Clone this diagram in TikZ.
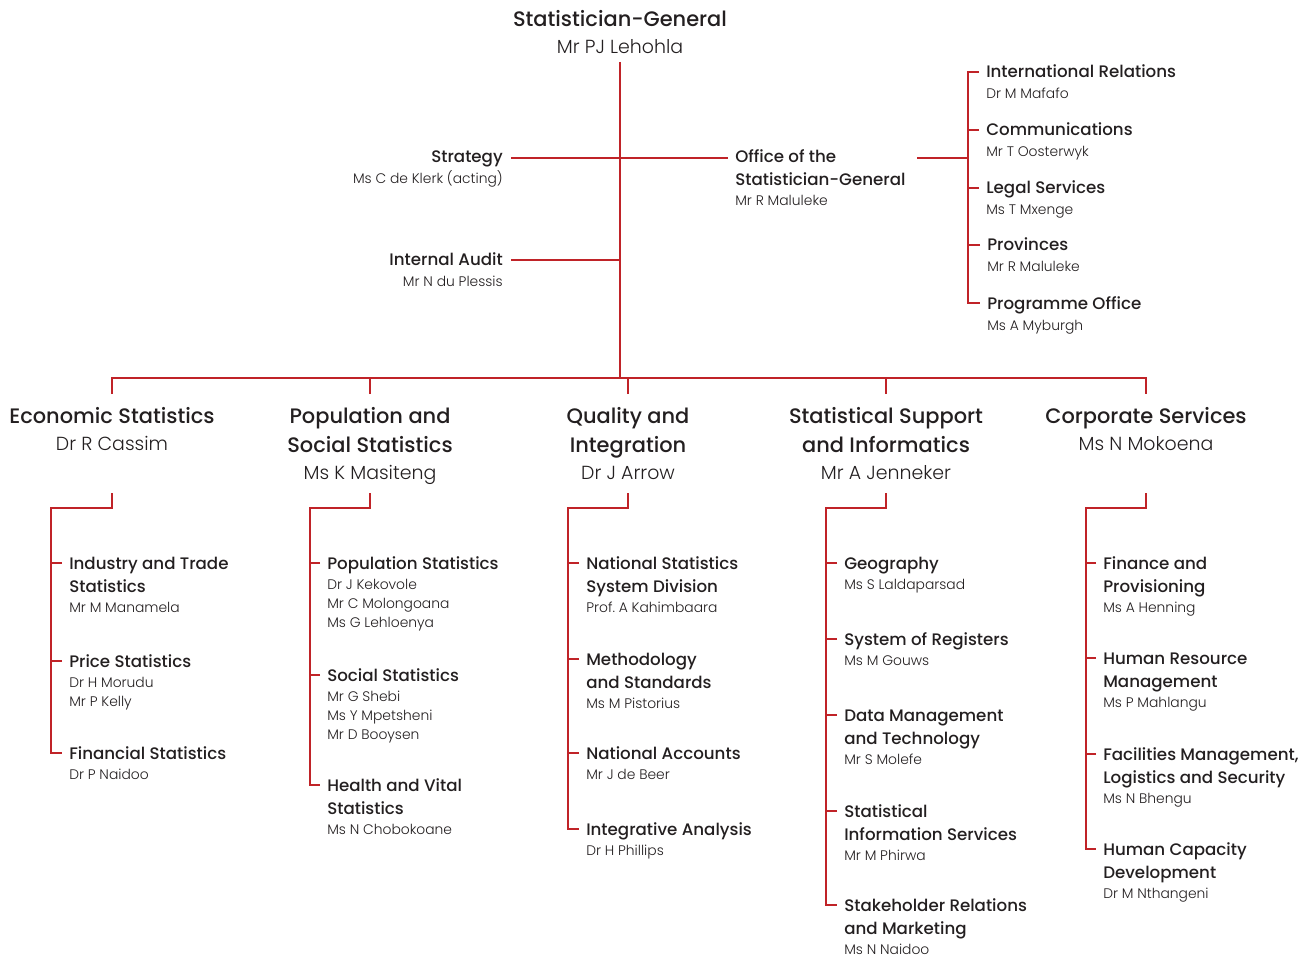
\documentclass[tikz,border=0pt]{standalone}
\usepackage{fontspec}
\setmainfont{Poppins}
\newfontfamily\hdfont{Poppins Medium}
\newfontfamily\ltfont{Poppins Light}
\usepackage{tikz}
\usetikzlibrary{calc}
\definecolor{statred}{RGB}{192,35,40}
\definecolor{ink}{RGB}{35,31,32}
\frenchspacing
\newcommand{\who}[1]{{\ltfont\fontsize{10.4}{14.25}\selectfont #1}}
\newcommand{\boss}[1]{{\ltfont\fontsize{14.2}{20}\selectfont #1}}
\tikzstyle{conn} = [draw=statred, line width=1.5pt]
\tikzstyle{head} = [inner sep=0, text=ink, text width=8cm, align=flush center, anchor=base, font=\hdfont\fontsize{15.7}{21.75}\selectfont]
\tikzstyle{unit} = [inner sep=0, text=ink, text width=8cm, align=flush left, anchor=base west, font=\hdfont\fontsize{12.5}{17.25}\selectfont]
\tikzstyle{unitr} = [unit, align=flush right, anchor=base east]

\begin{document}
\begin{tikzpicture}[x=0.75pt, y=-0.75pt]
  \useasboundingbox (0,0) rectangle (1305,959);
  % top
  \node (sg) [head] at (620,27) {Statistician-General\\[-1.5pt]\boss{Mr PJ Lehohla}};
  \node (strat) [unitr] at (503,163) {Strategy\\[-1.5pt]\who{Ms C de Klerk (acting)}};
  \node (ia) [unitr] at (503,265) {Internal Audit\\[-1.5pt]\who{Mr N du Plessis}};
  \node (osg) [unit] at (735,163) {Office of the\\Statistician-General\\[-2.25pt]\who{Mr R Maluleke}};
  \node (ir) [unit] at (986,78) {International Relations\\[-1.5pt]\who{Dr M Mafafo}};
  \node (cm) [unit] at (986,136) {Communications\\[-1.5pt]\who{Mr T Oosterwyk}};
  \node (ls) [unit] at (986,194) {Legal Services\\[-1.5pt]\who{Ms T Mxenge}};
  \node (pv) [unit] at (987,251) {Provinces\\[-1.5pt]\who{Mr R Maluleke}};
  \node (po) [unit] at (987,309) {Programme Office\\[-1.5pt]\who{Ms A Myburgh}};
  \coordinate (hub) at (620,378);
  \coordinate (br) at ($(ir.base west)+(-18,-6)$);
  \draw [conn] (sg.base |- 0,62) -- (hub);
  \draw [conn] ($(strat.base east)+(8,-5)$) -- ($(osg.base west)+(-7,-5)$);
  \draw [conn] ($(ia.base east)+(8,-5)$) coordinate (iaend) -- (iaend -| hub);
  \draw [conn] ($(osg.base west)+(182,-5)$) coordinate (osgend) -- (osgend -| br);
  \draw [conn] ($(ir.base west)+(-7,-6)$) -| ($(po.base west)+(-19,-6)$) -- ++(12,0);
  \draw [conn] ($(cm.base west)+(-7,-6)$) -- ++(-11,0);
  \draw [conn] ($(ls.base west)+(-7,-6)$) -- ++(-11,0);
  \draw [conn] ($(pv.base west)+(-7,-6)$) -- ++(-12,0);

  % divisions
  \node (eco) [head] at (112,423) {Economic Statistics\\[-1.5pt]\boss{Dr R Cassim}};
  \node (pop) [head] at (370,423) {Population and\\Social Statistics\\[-1.5pt]\boss{Ms K Masiteng}};
  \node (qual) [head] at (628,423) {Quality and\\Integration\\[-1.5pt]\boss{Dr J Arrow}};
  \node (ssi) [head] at (886,423) {Statistical Support\\and Informatics\\[-1.5pt]\boss{Mr A Jenneker}};
  \node (corp) [head] at (1146,423) {Corporate Services\\[-1.5pt]\boss{Ms N Mokoena}};
  \draw [conn] ($(eco.base)+(0,-29)$) |- (hub) -| ($(corp.base)+(0,-29)$);
  \draw [conn] ($(pop.base)+(0,-29)$) -- ++(0,-16);
  \draw [conn] ($(qual.base)+(0,-29)$) -- ++(0,-16);
  \draw [conn] ($(ssi.base)+(0,-29)$) -- ++(0,-16);

  % Economic Statistics
  \node (e1) [unit] at (69,569) {Industry and Trade\\Statistics\\[-2.25pt]\who{Mr M Manamela}};
  \node (e2) [unit] at (69,667) {Price Statistics\\[-2.25pt]\who{Dr H Morudu}\\[-3pt]\who{Mr P Kelly}};
  \node (e3) [unit] at (69,759) {Financial Statistics\\[-2.25pt]\who{Dr P Naidoo}};
  \draw [conn] ($(eco.base)+(0,70)$) -- ++(0,15) -| ($(e3.base west)+(-18,-6)$) -- ++(11,0);
  \draw [conn] ($(e1.base west)+(-7,-6)$) -- ++(-11,0);
  \draw [conn] ($(e2.base west)+(-7,-6)$) -- ++(-11,0);

  % Population and Social Statistics
  \node (p1) [unit] at (327,569) {Population Statistics\\[-2.25pt]\who{Dr J Kekovole}\\[-3pt]\who{Mr C Molongoana}\\[-3pt]\who{Ms G Lehloenya}};
  \node (p2) [unit] at (327,681) {Social Statistics\\[-2.25pt]\who{Mr G Shebi}\\[-3pt]\who{Ms Y Mpetsheni}\\[-3pt]\who{Mr D Booysen}};
  \node (p3) [unit] at (327,791) {Health and Vital\\Statistics\\[-2.25pt]\who{Ms N Chobokoane}};
  \draw [conn] ($(pop.base)+(0,70)$) -- ++(0,15) -| ($(p3.base west)+(-17,-6)$) -- ++(10,0);
  \draw [conn] ($(p1.base west)+(-7,-6)$) -- ++(-10,0);
  \draw [conn] ($(p2.base west)+(-7,-6)$) -- ++(-10,0);

  % Quality and Integration
  \node (q1) [unit] at (586,569) {National Statistics\\System Division\\[-2.25pt]\who{Prof. A Kahimbaara}};
  \node (q2) [unit] at (586,665) {Methodology\\and Standards\\[-2.25pt]\who{Ms M Pistorius}};
  \node (q3) [unit] at (586,759) {National Accounts\\[-2.25pt]\who{Mr J de Beer}};
  \node (q4) [unit] at (586,835) {Integrative Analysis\\[-2.25pt]\who{Dr H Phillips}};
  \draw [conn] ($(qual.base)+(0,70)$) -- ++(0,15) -| ($(q4.base west)+(-18,-6)$) -- ++(11,0);
  \draw [conn] ($(q1.base west)+(-7,-6)$) -- ++(-11,0);
  \draw [conn] ($(q2.base west)+(-7,-6)$) -- ++(-11,0);
  \draw [conn] ($(q3.base west)+(-7,-6)$) -- ++(-11,0);

  % Statistical Support and Informatics
  \node (s1) [unit] at (844,569) {Geography\\[-2.25pt]\who{Ms S Laldaparsad}};
  \node (s2) [unit] at (844,645) {System of Registers\\[-2.25pt]\who{Ms M Gouws}};
  \node (s3) [unit] at (844,721) {Data Management\\and Technology\\[-2.25pt]\who{Mr S Molefe}};
  \node (s4) [unit] at (844,817) {Statistical\\Information Services\\[-2.25pt]\who{Mr M Phirwa}};
  \node (s5) [unit] at (844,911) {Stakeholder Relations\\and Marketing\\[-2.25pt]\who{Ms N Naidoo}};
  \draw [conn] ($(ssi.base)+(0,70)$) -- ++(0,15) -| ($(s5.base west)+(-18,-6)$) -- ++(11,0);
  \draw [conn] ($(s1.base west)+(-7,-6)$) -- ++(-11,0);
  \draw [conn] ($(s2.base west)+(-7,-6)$) -- ++(-11,0);
  \draw [conn] ($(s3.base west)+(-7,-6)$) -- ++(-11,0);
  \draw [conn] ($(s4.base west)+(-7,-6)$) -- ++(-11,0);

  % Corporate Services
  \node (c1) [unit] at (1103,569) {Finance and\\Provisioning\\[-2.25pt]\who{Ms A Henning}};
  \node (c2) [unit] at (1103,664) {Human Resource\\Management\\[-2.25pt]\who{Ms P Mahlangu}};
  \node (c3) [unit] at (1103,760) {Facilities Management,\\Logistics and Security\\[-2.25pt]\who{Ms N Bhengu}};
  \node (c4) [unit] at (1103,855) {Human Capacity\\Development\\[-2.25pt]\who{Dr M Nthangeni}};
  \draw [conn] ($(corp.base)+(0,70)$) -- ++(0,15) -| ($(c4.base west)+(-17,-6)$) -- ++(10,0);
  \draw [conn] ($(c1.base west)+(-7,-6)$) -- ++(-10,0);
  \draw [conn] ($(c2.base west)+(-7,-6)$) -- ++(-10,0);
  \draw [conn] ($(c3.base west)+(-7,-6)$) -- ++(-10,0);
\end{tikzpicture}
\end{document}
